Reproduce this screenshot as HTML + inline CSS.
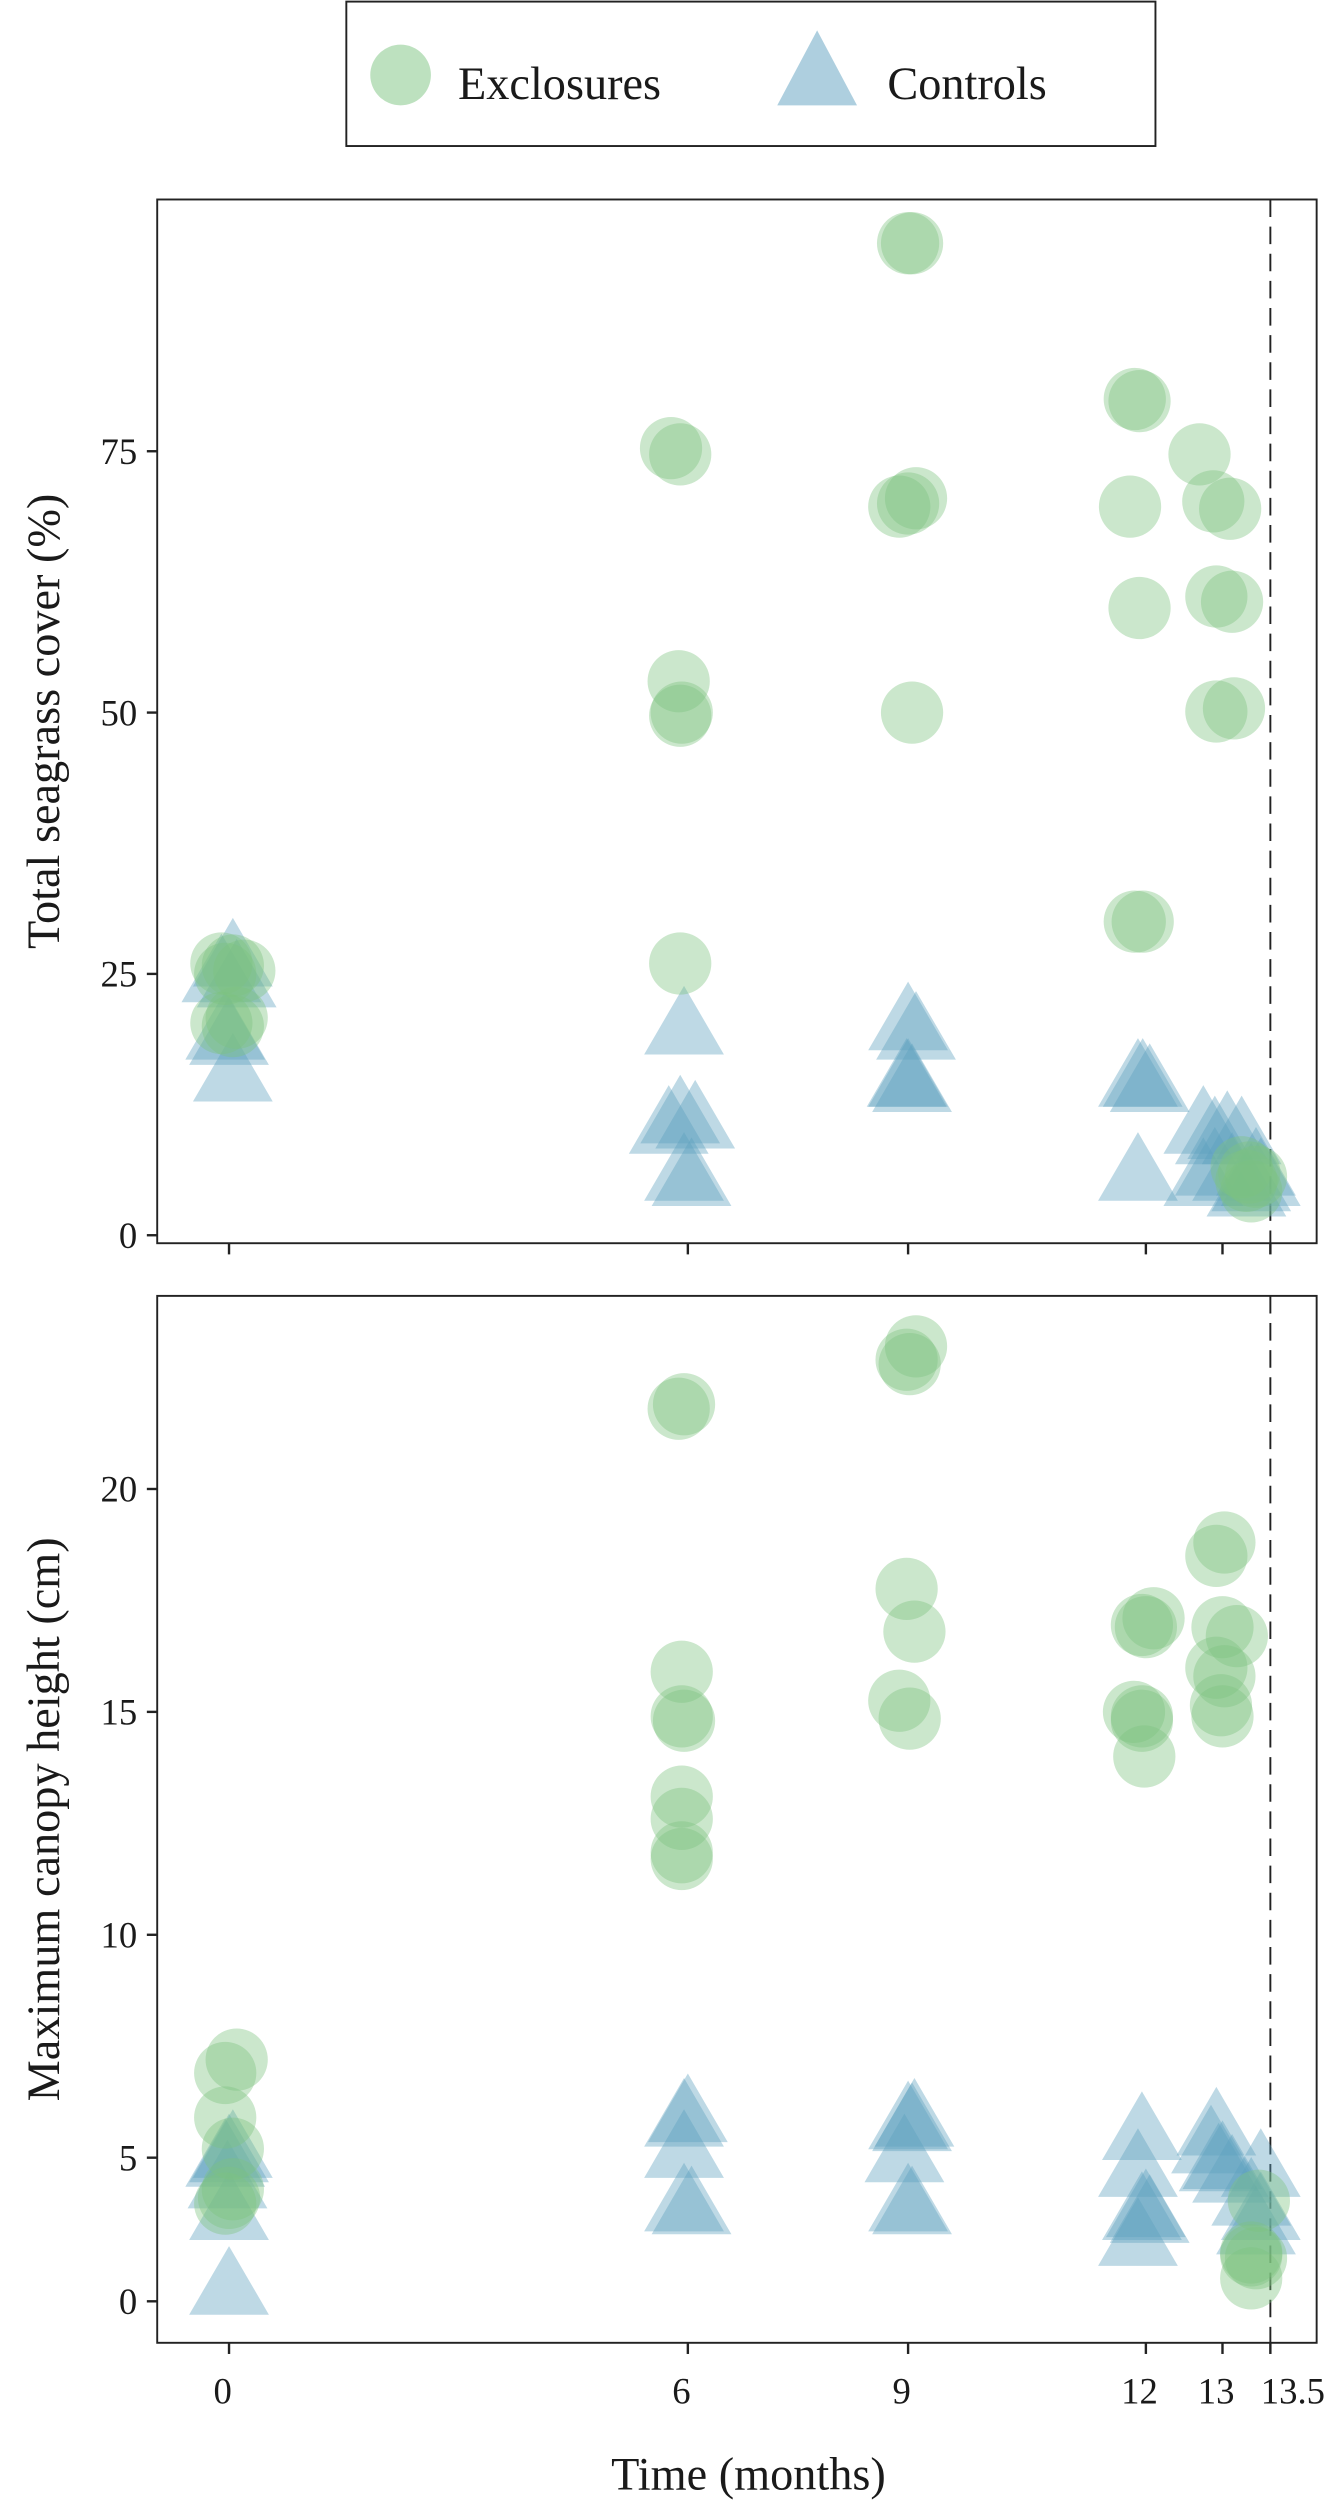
<!DOCTYPE html>
<html><head><meta charset="utf-8"><style>
html,body{margin:0;padding:0;background:#fff;}
svg{display:block;}
text{font-family:"Liberation Serif",serif;fill:#1a1a1a;}
</style></head><body>
<svg id="chart" width="1339" height="2500" viewBox="0 0 839 1566.5" xmlns="http://www.w3.org/2000/svg">
<g>
<rect x="217" y="1" width="507" height="90.5" fill="#fff" stroke="#222" stroke-width="1.2"/>
<circle cx="251" cy="47" r="19" fill="#7cc47f" fill-opacity="0.5"/>
<text x="287" y="62" font-size="29">Exclosures</text>
<polygon points="512,19 487,66 537,66" fill="#5d9fbf" fill-opacity="0.5"/>
<text x="556" y="62" font-size="29">Controls</text>
</g>
<g id="top"></g>
<g id="bot"></g>
<text x="469" y="1560" font-size="29" text-anchor="middle">Time (months)</text>
<text transform="translate(37,452) rotate(-90)" font-size="29" text-anchor="middle">Total seagrass cover (%)</text>
<text transform="translate(37,1140) rotate(-90)" font-size="29" text-anchor="middle">Maximum canopy height (cm)</text>
</svg>
<script>
// x axis (months)
const xTickValues = [0, 6, 9, 12, 13, 13.5];
const xTickLabels = ["0", "6", "9", "12", "13", "13.5"];
// top panel: seagrass cover (%)
const topTicks = [0, 25, 50, 75];
const coverExclX = [-0.1,0.05,0.2,-0.05,-0.1,0.05,0.1, 5.78,5.9,5.88,5.9,5.92,5.9, 9.0,9.05,8.88,9.1,9.0,9.05, 11.86,11.92,11.8,11.92,11.86,11.96, 12.7,12.88,13.08,12.92,13.1,12.92,13.12, 13.25,13.3,13.35,13.2,13.28];
const coverExclY = [26,25.8,25.3,25,20.3,20,20.8, 75.3,74.7,53,49.7,50,26, 94.9,94.9,69.7,70.5,70,50, 80,79.8,69.7,60,30,30, 74.7,70.2,69.5,61.1,60.6,50.1,50.4, 5.2,4.2,5.6,6.5,6];
const coverCtrlX = [0.05,-0.1,0.1,-0.05,0.0,0.05, 5.95,5.9,5.75,6.1,5.95,6.05, 9.0,9.1,9.0,8.98,9.05, 11.9,11.96,12.05,11.9, 12.75,12.9,13.05,13.2,12.9,12.75,13.1,13.3,13.4,13.25,13.35];
const coverCtrlY = [27,25.5,25,20,19.5,16, 20.5,12,11,11.5,6.5,6, 20.9,20,15.5,15.5,15, 15.5,15.5,15,6.5, 11,10,10.5,10,7,6,6.5,5.5,6,5,7];
// bottom panel: canopy height (cm)
const botTicks = [0, 5, 10, 15, 20];
const hExclX = [0.1,-0.05,-0.05,0.05,0.05,-0.05,0.0, 5.95,5.88,5.92,5.95,5.92,5.92,5.92,5.92,5.92, 9.1,8.98,9.02,8.98,9.08,8.88,9.02, 11.95,12.0,12.1,11.85,11.95,11.95,11.98, 13.02,12.92,13.0,13.15,12.92,13.02,12.98,13.0, 13.3,13.35,13.3,13.38,13.3];
const hExclY = [7.2,6.9,5.9,5.2,3.9,3.4,3.6, 21.9,21.8,15.9,14.8,14.9,13.1,12.6,11.85,11.7, 23.2,22.9,22.8,17.76,16.8,15.25,14.85, 16.95,16.9,17.1,15,14.8,14.9,14.0, 18.8,18.5,16.9,16.7,15.99,15.8,15.15,14.9, 1.6,1.5,1.7,3.5,0.8];
const hCtrlX = [0,-0.05,0.05,-0.02,0.0,0.0, 5.95,6.0,5.95,5.95,6.05, 9.0,9.08,9.05,8.95,9.0,9.05, 11.95,11.9,11.95,12.0,12.05,11.9, 12.92,13.0,12.95,12.85,13.1, 13.4,13.3,13.4,13.35];
const hCtrlY = [5.2,5.1,5.3,4.4,3.3,0.7, 6.0,6.1,5.3,3.6,3.5, 5.94,6.0,5.9,5.2,3.6,3.5, 5.7,4.8,3.3,3.4,3.2,2.4, 5.8,5.05,5.0,5.4,4.6, 4.8,3.8,3.3,2.8];

const NS = "http://www.w3.org/2000/svg";
const xRange = [143.5, 431, 569, 718, 766, 796];
function pw(v, dom, rng){
  for(let i=0;i<dom.length-1;i++){
    if(v<=dom[i+1] || i===dom.length-2){
      return rng[i] + (v-dom[i])*(rng[i+1]-rng[i])/(dom[i+1]-dom[i]);
    }
  }
}
function xScale(m){ return pw(m, xTickValues, xRange); }
function yTop(v){ return 774 - v*6.55; }
function yBot(v){ return pw(v, [0,5,20], [1442,1352,933]); }
function mk(tag, attrs, parent){
  const e = document.createElementNS(NS, tag);
  for(const k in attrs) e.setAttribute(k, attrs[k]);
  parent.appendChild(e); return e;
}
function panel(g, top, bottom, ticks, yf, panelName, showLabels){
  const r = mk('rect', {x:98.5, y:top, width:726.5, height:bottom-top, fill:'none', stroke:'#222', 'stroke-width':1.2}, g);
  
  
  const d = mk('line', {x1:xScale(13.5), x2:xScale(13.5), y1:top, y2:bottom, stroke:'#222', 'stroke-width':1.2, 'stroke-dasharray':'11,6'}, g);
  
  
  ticks.forEach(t=>{
    const y = yf(t);
    const l = mk('line', {x1:92, x2:98.5, y1:y, y2:y, stroke:'#222', 'stroke-width':1.5}, g);
    
    
    const tx = mk('text', {x:86, y:y+8, 'font-size':23, 'text-anchor':'end'}, g);
    tx.textContent = t;
    
    
  });
  xTickValues.forEach((t,i)=>{
    const x = xScale(t);
    const l = mk('line', {x1:x, x2:x, y1:bottom, y2:bottom+7, stroke:'#222', 'stroke-width':1.5}, g);
    
    
    if(showLabels){
      const last = i === xTickValues.length-1;
      const tx = mk('text', {x: last ? x-6 : x-4, y:bottom+38, 'font-size':23, 'text-anchor': last ? 'start' : 'middle'}, g);
      tx.textContent = xTickLabels[i];
      
      
    }
  });
}
function tris(g, xs, ys, yf, name){
  xs.forEach((m,i)=>{
    const cx = xScale(m), cy = yf(ys[i]);
    const p = mk('polygon', {points:`${cx},${cy-22} ${cx-25},${cy+21} ${cx+25},${cy+21}`, fill:'#5d9fbf', 'fill-opacity':0.4}, g);
    
    
  });
}
function circs(g, xs, ys, yf, name){
  xs.forEach((m,i)=>{
    const c = mk('circle', {cx:xScale(m), cy:yf(ys[i]), r:19.5, fill:'#7cc47f', 'fill-opacity':0.4}, g);
    
    
  });
}
const gt = document.getElementById('top');
const gb = document.getElementById('bot');
panel(gt, 125, 779, topTicks, yTop, 'top-panel', false);
panel(gb, 812, 1468, botTicks, yBot, 'bottom-panel', true);
tris(gt, coverCtrlX, coverCtrlY, yTop, 'cover-control-point');
circs(gt, coverExclX, coverExclY, yTop, 'cover-exclosure-point');
tris(gb, hCtrlX, hCtrlY, yBot, 'height-control-point');
circs(gb, hExclX, hExclY, yBot, 'height-exclosure-point');
</script>
</body></html>
